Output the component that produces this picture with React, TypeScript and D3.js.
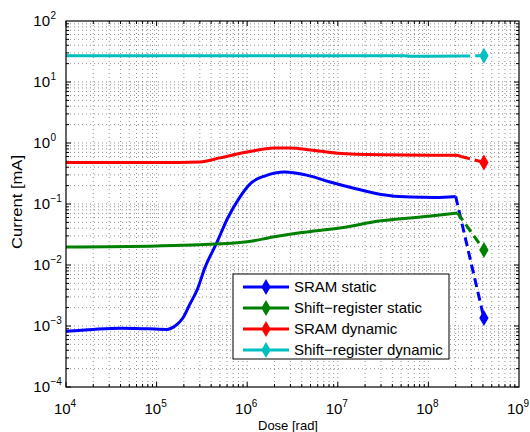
import { useEffect, useRef } from "react";
import * as d3 from "d3";

// ---------------- data ----------------
// [dose in rad, current in mA]
const sramStatic = [
  [1e4, 8.2e-4], [2e4, 8.8e-4], [4e4, 9.2e-4], [8e4, 9.0e-4], [1.3e5, 8.8e-4],
  [1.6e5, 1.0e-3], [1.95e5, 1.35e-3], [2.3e5, 2.2e-3], [2.8e5, 3.9e-3], [3.4e5, 8.9e-3],
  [4.6e5, 0.023], [6.1e5, 0.059], [8.3e5, 0.13], [1.1e6, 0.22], [1.58e6, 0.29],
  [2.6e6, 0.335], [4.4e6, 0.30], [8.2e6, 0.23], [1.54e7, 0.18], [2.9e7, 0.145],
  [6.3e7, 0.13], [1.2e8, 0.128], [2.0e8, 0.133],
];
const shiftStatic = [
  [1e4, 0.0197], [1e5, 0.0205], [3e5, 0.0215], [1e6, 0.024], [2e6, 0.029],
  [4e6, 0.034], [1e7, 0.040], [3e7, 0.053], [1e8, 0.063], [2.1e8, 0.071],
];
const sramDynamic = [
  [1e4, 0.48], [1e5, 0.48], [3e5, 0.49], [5e5, 0.57], [1e6, 0.71], [2e6, 0.83],
  [3e6, 0.83], [5e6, 0.77], [1e7, 0.68], [3e7, 0.64], [1e8, 0.63], [2.0e8, 0.63], [2.3e8, 0.60],
];
const shiftDynamic = [
  [1e4, 27], [1e6, 27], [1e7, 27], [5.5e7, 27], [6.5e7, 26.4], [1e8, 26.4], [2.3e8, 26.6],
];
// last (dashed) point with diamond marker
const finalDose = 4.1e8;
const finalCurrent = [1.35e-3, 0.0176, 0.48, 27];

const seriesNames = ["SRAM static", "Shift\u2212register static", "SRAM dynamic", "Shift\u2212register dynamic"];
const seriesColors = ["#0000ff", "#008000", "#ff0000", "#00bfbf"];

const xDecades = [4, 5, 6, 7, 8, 9];
const yDecades = [-4, -3, -2, -1, 0, 1, 2];

const W = 530;
const H = 432;

export default function App() {
  const svgRef = useRef<SVGSVGElement | null>(null);

  useEffect(() => {
    document.body.style.margin = "0";
    const svg = d3.select(svgRef.current);
    svg.selectAll("*").remove();

    const left = 66, right = 519, top = 21, bottom = 387;
    const x = d3.scaleLog().domain([1e4, 1e9]).range([left, right]);
    const y = d3.scaleLog().domain([1e-4, 1e2]).range([bottom, top]);
    const font = "Liberation Sans, Arial, sans-serif";

    // white background
    svg.append("rect").attr("width", W).attr("height", H).attr("fill", "#fff");

    // ---- dotted grid (major + minor) ----
    const grid = svg.append("g").attr("stroke", "#000").attr("stroke-width", 0.7)
      .attr("stroke-dasharray", "1,3").attr("opacity", 0.6);
    const xTicks: number[] = [];
    xDecades.slice(0, -1).forEach((d) => {
      for (let m = 1; m < 10; m++) xTicks.push(m * Math.pow(10, d));
    });
    const yTicks: number[] = [];
    yDecades.slice(0, -1).forEach((d) => {
      for (let m = 1; m < 10; m++) yTicks.push(m * Math.pow(10, d));
    });
    xTicks.slice(1).forEach((v) => {
      grid.append("line").attr("x1", x(v)).attr("x2", x(v)).attr("y1", top).attr("y2", bottom);
    });
    yTicks.slice(1).forEach((v) => {
      grid.append("line").attr("y1", y(v)).attr("y2", y(v)).attr("x1", left).attr("x2", right);
    });

    // ---- inward ticks on all sides ----
    const ticks = svg.append("g").attr("stroke", "#000").attr("stroke-width", 1);
    xTicks.forEach((v, i) => {
      const len = i % 9 === 0 ? 5 : 3;
      ticks.append("line").attr("x1", x(v)).attr("x2", x(v)).attr("y1", bottom).attr("y2", bottom - len);
      ticks.append("line").attr("x1", x(v)).attr("x2", x(v)).attr("y1", top).attr("y2", top + len);
    });
    yTicks.forEach((v, i) => {
      const len = i % 9 === 0 ? 5 : 3;
      ticks.append("line").attr("y1", y(v)).attr("y2", y(v)).attr("x1", left).attr("x2", left + len);
      ticks.append("line").attr("y1", y(v)).attr("y2", y(v)).attr("x1", right).attr("x2", right - len);
    });

    // ---- series ----
    const allSeries = [sramStatic, shiftStatic, sramDynamic, shiftDynamic];
    const line = d3.line<number[]>().x((d) => x(d[0])).y((d) => y(d[1])).curve(d3.curveMonotoneX);
    const diamond = d3.symbol().type(d3.symbolDiamond).size(75);

    allSeries.forEach((data, i) => {
      const last = data[data.length - 1];
      svg.append("path").attr("d", line(data)).attr("fill", "none")
        .attr("stroke", seriesColors[i]).attr("stroke-width", 3).attr("stroke-linejoin", "round");
      svg.append("path").attr("d", line([last, [finalDose, finalCurrent[i]]])).attr("fill", "none")
        .attr("stroke", seriesColors[i]).attr("stroke-width", 3).attr("stroke-dasharray", "9,5");
      svg.append("path").attr("d", diamond())
        .attr("transform", `translate(${x(finalDose)},${y(finalCurrent[i])})`)
        .attr("fill", seriesColors[i]);
    });

    // ---- box ----
    svg.append("rect").attr("x", left).attr("y", top).attr("width", right - left).attr("height", bottom - top)
      .attr("fill", "none").attr("stroke", "#000").attr("stroke-width", 1.2);

    // ---- tick labels (10^n) ----
    xDecades.forEach((d) => {
      const t = svg.append("text").attr("x", x(Math.pow(10, d)) - 1).attr("y", 414)
        .attr("text-anchor", "middle").attr("font-family", font).attr("font-size", 15);
      t.append("tspan").text("10");
      t.append("tspan").attr("dy", -7).attr("font-size", 10).text(String(d));
    });
    yDecades.forEach((d) => {
      svg.append("text").attr("x", 50).attr("y", y(Math.pow(10, d)) + 5)
        .attr("text-anchor", "end").attr("font-family", font).attr("font-size", 15).text("10");
      svg.append("text").attr("x", 50.5).attr("y", y(Math.pow(10, d)) - 2)
        .attr("font-family", font).attr("font-size", 10)
        .text(d < 0 ? "\u2212" + Math.abs(d) : String(d));
    });

    // ---- axis labels ----
    svg.append("text").attr("x", 288).attr("y", 430).attr("text-anchor", "middle")
      .attr("font-family", font).attr("font-size", 13).text("Dose [rad]");
    svg.append("text").attr("transform", "translate(22,202) rotate(-90)").attr("text-anchor", "middle")
      .attr("font-family", font).attr("font-size", 14)
      .attr("textLength", 94).attr("lengthAdjust", "spacingAndGlyphs").text("Current [mA]");

    // ---- legend ----
    const lg = svg.append("g");
    lg.append("rect").attr("x", 233).attr("y", 274).attr("width", 216).attr("height", 85)
      .attr("fill", "#fff").attr("stroke", "#000").attr("stroke-width", 1);
    seriesNames.forEach((name, i) => {
      const ly = 287 + i * 21;
      lg.append("line").attr("x1", 243).attr("x2", 289).attr("y1", ly).attr("y2", ly)
        .attr("stroke", seriesColors[i]).attr("stroke-width", 3);
      lg.append("path").attr("d", diamond()).attr("transform", `translate(266,${ly})`).attr("fill", seriesColors[i]);
      lg.append("text").attr("x", 294).attr("y", ly + 5).attr("font-family", font).attr("font-size", 15)
        .text(name);
    });
  }, []);

  return <svg ref={svgRef} width={W} height={H} style={{ display: "block" }} />;
}
